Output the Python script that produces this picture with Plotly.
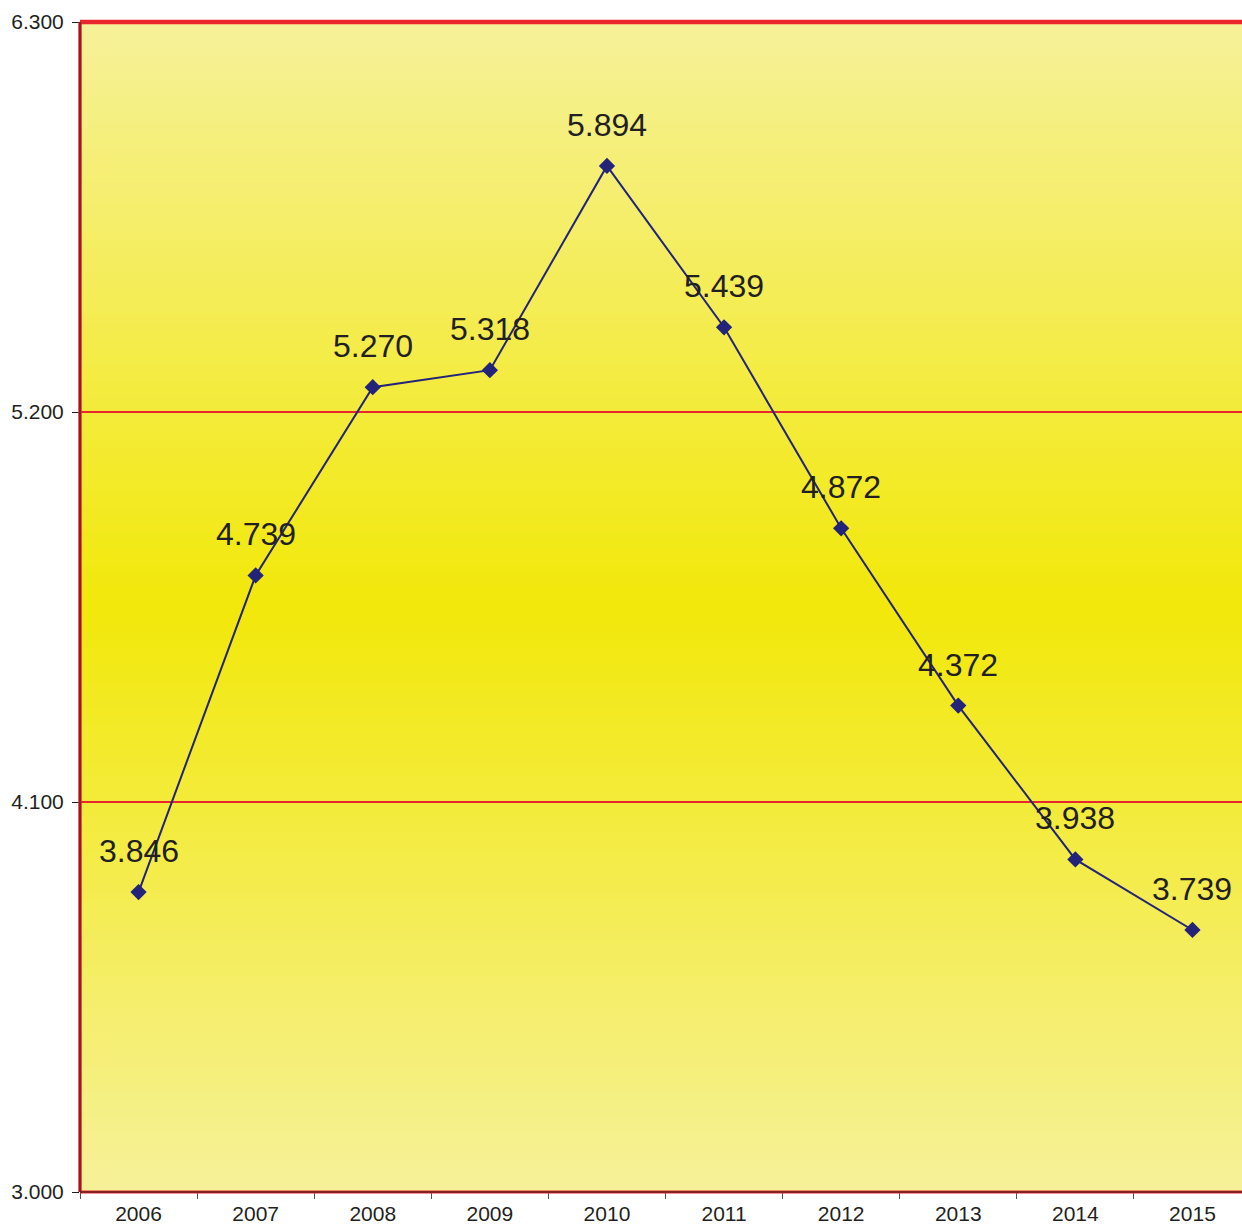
import plotly.graph_objects as go

years = ["2006", "2007", "2008", "2009", "2010", "2011", "2012", "2013", "2014", "2015"]
values = [3.846, 4.739, 5.270, 5.318, 5.894, 5.439, 4.872, 4.372, 3.938, 3.739]
y_ticks = [3.0, 4.1, 5.2, 6.3]
y_tick_labels = ["3.000", "4.100", "5.200", "6.300"]

FONT = "Liberation Sans, Arial, sans-serif"
LINE_COLOR = "#23237A"
EDGE = (246, 241, 154)
MID = (242, 232, 10)

fig = go.Figure()
fig.add_trace(go.Scatter(
    x=years, y=values, mode="lines+markers",
    line=dict(color=LINE_COLOR, width=2),
    marker=dict(symbol="diamond", size=12.5, color=LINE_COLOR),
    hoverinfo="skip", showlegend=False,
))

for i, yv in enumerate(values):
    fig.add_annotation(x=i, y=yv, xref="x", yref="y", text=f"{yv:.3f}", showarrow=False,
                       yshift=41, xanchor="center", yanchor="middle",
                       font=dict(family=FONT, size=32, color="#231F20"))

shapes = []
N = 140
for i in range(N):
    p0 = i / N
    p1 = (i + 1) / N
    c = (p0 + p1) / 2
    t = abs(c - 0.5) * 2
    col = tuple(round(MID[k] + (EDGE[k] - MID[k]) * t) for k in range(3))
    shapes.append(dict(type="rect", xref="paper", yref="paper",
                       x0=0, x1=1, y0=p0, y1=min(1, p1 + 0.002),
                       fillcolor=f"rgb{col}", line=dict(width=0), layer="below"))

RED = "#E8262B"
shapes += [
    dict(type="line", xref="paper", yref="paper", x0=0, x1=1, y0=1, y1=1,
         line=dict(color=RED, width=4.5), layer="above"),
    dict(type="line", xref="paper", yref="paper", x0=0, x1=1, y0=0, y1=0,
         line=dict(color=RED, width=3), layer="above"),
    dict(type="line", xref="paper", yref="paper", x0=0, x1=0, y0=0, y1=1,
         line=dict(color=RED, width=3.5), layer="above"),
    dict(type="line", xref="paper", yref="paper", x0=0, x1=0, y0=0, y1=1,
         line=dict(color="#231F20", width=1), layer="above"),
    dict(type="line", xref="paper", yref="paper", x0=0, x1=1, y0=0, y1=0,
         line=dict(color="#231F20", width=1), layer="above"),
]

fig.update_layout(
    width=1242, height=1228,
    margin=dict(l=80, r=0, t=22, b=36),
    paper_bgcolor="white", plot_bgcolor="rgba(0,0,0,0)",
    shapes=shapes,
    font=dict(family=FONT, color="#231F20"),
    xaxis=dict(type="category", range=[-0.5, 9.423], tickson="boundaries",
               ticks="outside", ticklen=6, tickcolor="#555555", tickwidth=1,
               ticklabelstandoff=7,
               showgrid=False, showline=False, zeroline=False,
               tickfont=dict(family=FONT, size=21, color="#231F20"), fixedrange=True),
    yaxis=dict(range=[3.0, 6.3], tickvals=y_ticks, ticktext=y_tick_labels,
               ticks="outside", ticklen=7, tickcolor="#231F20", tickwidth=1,
               ticklabelstandoff=4,
               showgrid=True, gridcolor=RED, gridwidth=2,
               showline=False, zeroline=False,
               tickfont=dict(family=FONT, size=21, color="#231F20"), fixedrange=True),
)

fig.write_html(
    "out.html",
    config={"displayModeBar": False, "staticPlot": True},
    post_script="document.documentElement.style.overflow='hidden';"
                "document.body.style.margin='0';document.body.style.overflow='hidden';",
)
